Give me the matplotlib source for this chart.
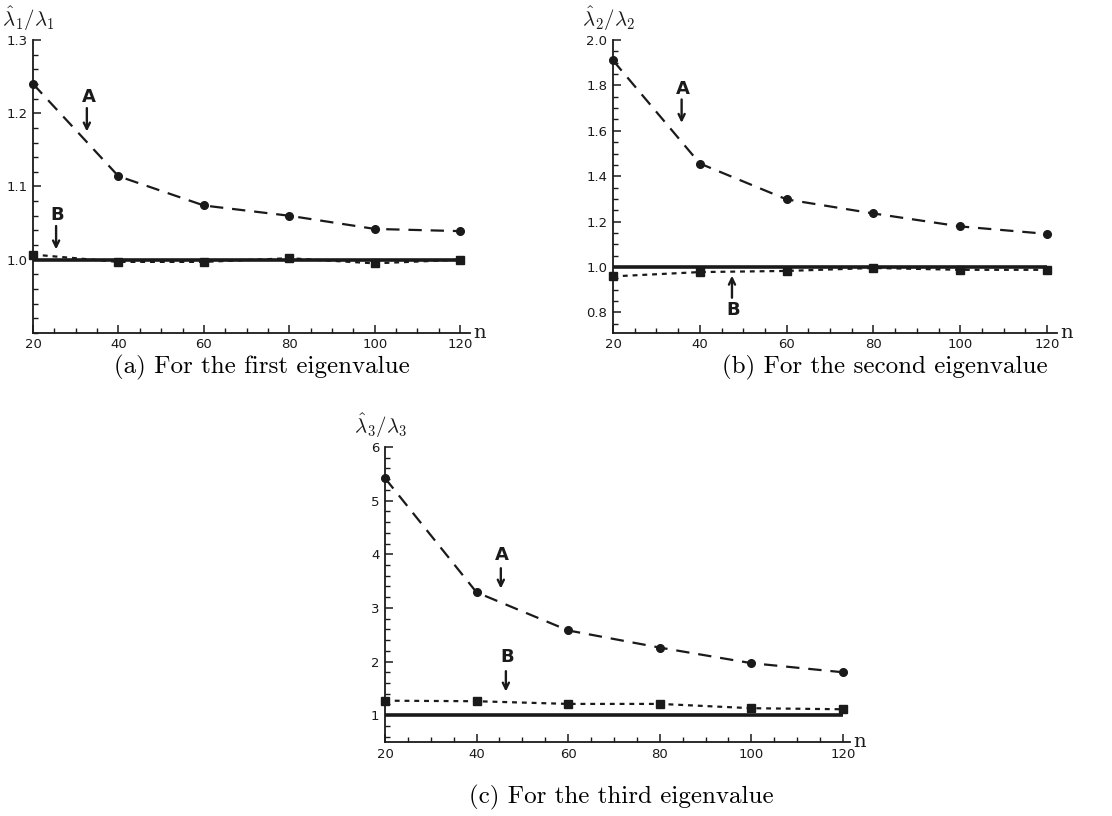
import matplotlib
matplotlib.use("Agg")
import matplotlib.pyplot as plt
from matplotlib.ticker import MultipleLocator, FixedLocator

plt.rcParams['mathtext.fontset'] = 'cm'
plt.rcParams['font.family'] = 'DejaVu Sans'

# valores
n = [20, 40, 60, 80, 100, 120]
a1 = [1.240, 1.114, 1.074, 1.060, 1.042, 1.039]
b1 = [1.007, 0.997, 0.997, 1.002, 0.995, 1.000]
a2 = [1.910, 1.456, 1.298, 1.236, 1.179, 1.146]
b2 = [0.959, 0.978, 0.983, 0.996, 0.988, 0.988]
a3 = [5.42, 3.29, 2.58, 2.26, 1.97, 1.80]
b3 = [1.27, 1.26, 1.21, 1.21, 1.13, 1.11]

ylabels = [r'$\hat{\lambda}_1/\lambda_1$', r'$\hat{\lambda}_2/\lambda_2$', r'$\hat{\lambda}_3/\lambda_3$']
captions = ['(a) For the first eigenvalue', '(b) For the second eigenvalue', '(c) For the third eigenvalue']

cor = '#1a1a1a'
fig = plt.figure(figsize=(11.12, 8.16), dpi=100)

# posicoes dos paineis; rotulos: (letra, (x, y) da letra, inicio da seta, ponta da seta)
paineis = [
    dict(rect=[0.0297, 0.592, 0.393, 0.359], xmax=122.3, ylim=(0.9, 1.3),
         yticks=[1.0, 1.1, 1.2, 1.3], yminor=0.02, fmt='%.1f',
         rot=[('A', (33.0, 1.222), (32.6, 1.207), (32.6, 1.175)),
              ('B', (25.6, 1.061), (25.4, 1.046), (25.4, 1.014))]),
    dict(rect=[0.5513, 0.592, 0.3993, 0.359], xmax=122.3, ylim=(0.71, 2.0),
         yticks=[0.8, 1.0, 1.2, 1.4, 1.6, 1.8, 2.0], yminor=0.05, fmt='%.1f',
         rot=[('A', (36.1, 1.782), (35.8, 1.738), (35.8, 1.635)),
              ('B', (47.6, 0.812), (47.4, 0.865), (47.4, 0.962))]),
    dict(rect=[0.3462, 0.0907, 0.418, 0.3615], xmax=121.5, ylim=(0.5, 6.0),
         yticks=[1, 2, 3, 4, 5, 6], yminor=0.2, fmt='%d',
         rot=[('A', (45.5, 3.99), (45.3, 3.74), (45.3, 3.36)),
              ('B', (46.6, 2.09), (46.4, 1.82), (46.4, 1.44))]),
]
series = [(a1, b1), (a2, b2), (a3, b3)]
cap_pos = [(0.2356, 0.550), (0.796, 0.550), (0.5585, 0.0233)]

for i, p in enumerate(paineis):
    ax = fig.add_axes(p['rect'])
    a, b = series[i]
    ax.plot([n[0], n[-1]], [1, 1], color=cor, lw=2.6, solid_capstyle='butt', zorder=2)
    ax.plot(n, a, color=cor, lw=1.6, dashes=(6, 4), marker='o', ms=5.5, zorder=3, clip_on=False)
    ax.plot(n, b, color=cor, lw=1.6, dashes=(2.2, 2.2), marker='s', ms=5.5, zorder=3, clip_on=False)

    ax.set_xlim(20, p['xmax'])
    ax.set_ylim(*p['ylim'])
    for s in ['top', 'right']:
        ax.spines[s].set_visible(False)
    for s in ['left', 'bottom']:
        ax.spines[s].set_linewidth(1.3)
        ax.spines[s].set_color(cor)
    ax.xaxis.set_major_locator(FixedLocator(n))
    ax.xaxis.set_minor_locator(MultipleLocator(5))
    ax.yaxis.set_major_locator(FixedLocator(p['yticks']))
    ax.yaxis.set_minor_locator(MultipleLocator(p['yminor']))
    ax.set_yticklabels([p['fmt'] % v for v in p['yticks']])
    ax.tick_params(which='major', direction='in', length=6, width=1.1, labelsize=9.5,
                   colors=cor, pad=4)
    ax.tick_params(which='minor', direction='in', length=3.5, width=1.0, colors=cor)

    ax.text(-0.01, 1.025, ylabels[i], transform=ax.transAxes, ha='center', va='bottom',
            fontsize=15, color=cor)
    ax.text(1.008, 0.0, 'n', transform=ax.transAxes, ha='left', va='center',
            fontsize=14, family='DejaVu Serif', color=cor)

    # etiquetas A e B com setas
    for letra, pos_txt, ini, ponta in p['rot']:
        ax.text(pos_txt[0], pos_txt[1], letra, ha='center', va='center', fontsize=13,
                fontweight='bold', color=cor)
        ax.annotate('', xy=ponta, xytext=ini,
                    arrowprops=dict(arrowstyle='->,head_length=0.45,head_width=0.22',
                                    lw=1.7, color=cor, shrinkA=0, shrinkB=0))

    cx, cy = cap_pos[i]
    fig.text(cx, cy, captions[i], ha='center', va='center', fontsize=18, family='cmr10')

fig.savefig('out.png', dpi=100)
